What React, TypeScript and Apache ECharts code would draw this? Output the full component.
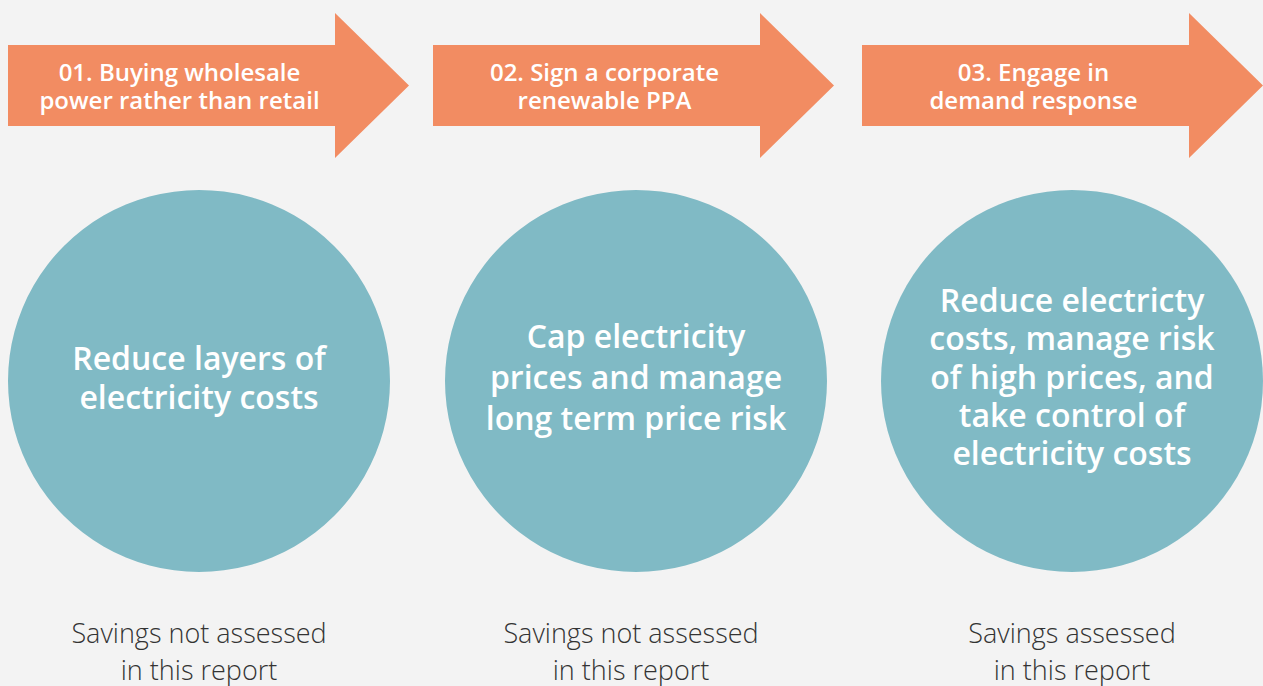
import React, { useEffect, useRef } from "react";
import * as echarts from "echarts";

const stepTitles = [
  "01. Buying wholesale\npower rather than retail",
  "02. Sign a corporate\nrenewable PPA",
  "03. Engage in\ndemand response",
];
const outcomes = [
  "Reduce layers of\nelectricity costs",
  "Cap electricity\nprices and manage\nlong term price risk",
  "Reduce electricty\ncosts, manage risk\nof high prices, and\ntake control of\nelectricity costs",
];
const savingsNotes = [
  "Savings not assessed\nin this report",
  "Savings not assessed\nin this report",
  "Savings assessed\nin this report",
];

const ORANGE = "#F28C62";
const TEAL = "#80BAC5";
const BG = "#F3F3F3";

// layout
const arrowLeft = [8, 433, 862];
const arrowBodyW = 327;
const arrowHeadW = 74;
const circleCx = [199, 636, 1072];
const noteCx = [199, 631, 1072];
const circleCy = 381;
const circleR = 191;

export default function App() {
  const ref = useRef<HTMLDivElement>(null);
  useEffect(() => {
    document.body.style.margin = "0";
    const chart = echarts.init(ref.current!, null, { renderer: "svg" });
    const elements: any[] = [];
    stepTitles.forEach((t, i) => {
      const x0 = arrowLeft[i];
      const x1 = x0 + arrowBodyW;
      const tip = x1 + arrowHeadW;
      elements.push({
        type: "polygon",
        shape: {
          points: [
            [x0, 45],
            [x1, 45],
            [x1, 13],
            [tip, 85.5],
            [x1, 158],
            [x1, 126],
            [x0, 126],
          ],
        },
        style: { fill: ORANGE },
      });
      elements.push({
        type: "text",
        x: x0 + arrowBodyW / 2 + 8,
        y: 85,
        style: {
          text: t,
          fill: "#ffffff",
          fontFamily: "Open Sans",
          fontSize: 24,
          fontWeight: 600,
          lineHeight: 28,
          textAlign: "center",
          textVerticalAlign: "middle",
        },
      });
    });
    outcomes.forEach((t, i) => {
      elements.push({
        type: "circle",
        shape: { cx: circleCx[i], cy: circleCy, r: circleR },
        style: { fill: TEAL },
      });
      elements.push({
        type: "text",
        x: circleCx[i],
        y: i === 0 ? 377 : 376,
        style: {
          text: t,
          fill: "#ffffff",
          fontFamily: "Open Sans",
          fontSize: 32,
          fontWeight: 600,
          lineHeight: i === 1 ? 41 : 38.3,
          textAlign: "center",
          textVerticalAlign: "middle",
        },
      });
    });
    savingsNotes.forEach((t, i) => {
      elements.push({
        type: "text",
        x: noteCx[i],
        y: 651,
        style: {
          text: t,
          fill: "#333333",
          fontFamily: "Open Sans",
          fontSize: 27,
          fontWeight: 300,
          lineHeight: 37,
          textAlign: "center",
          textVerticalAlign: "middle",
        },
      });
    });
    chart.setOption({
      animation: false,
      backgroundColor: BG,
      graphic: { elements },
    });
    return () => chart.dispose();
  }, []);
  return <div ref={ref} style={{ width: 1263, height: 686 }} />;
}
